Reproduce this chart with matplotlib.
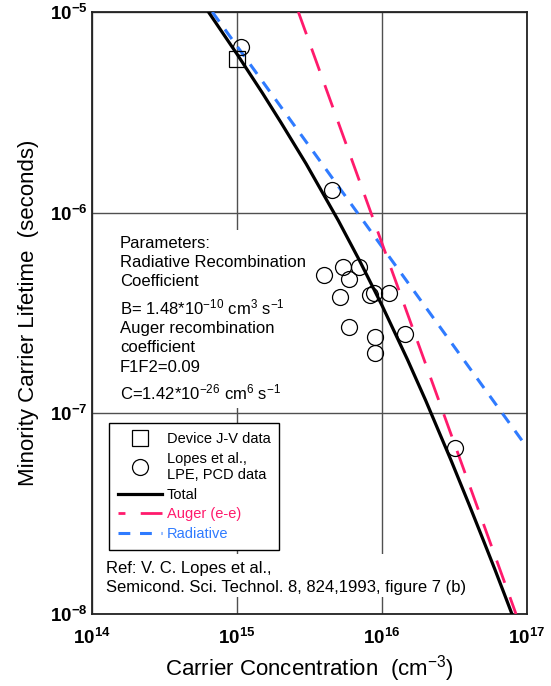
import matplotlib
matplotlib.use('Agg')
import matplotlib.pyplot as plt
from matplotlib.lines import Line2D
from matplotlib.patches import Rectangle

plt.rcParams['font.family'] = ['Liberation Sans', 'DejaVu Sans']
plt.rcParams['mathtext.fontset'] = 'custom'
plt.rcParams['mathtext.rm'] = 'Liberation Sans'
plt.rcParams['mathtext.it'] = 'Liberation Sans:italic'
plt.rcParams['mathtext.bf'] = 'Liberation Sans:bold'
plt.rcParams['lines.scale_dashes'] = False

# model curves (carrier conc. cm^-3, lifetime s)
total_n = [6.3e14, 1e15, 1.5e15, 2e15, 3e15, 5e15, 7e15, 1e16, 1.5e16,
           2e16, 3e16, 4e16, 5e16, 6e16, 7e16, 8e16]
total_tau = [1.01e-5, 6.17e-6, 3.94e-6, 2.83e-6, 1.75e-6, 9.13e-7, 5.77e-7,
             3.45e-7, 1.85e-7, 1.16e-7, 5.81e-8, 3.49e-8, 2.33e-8, 1.67e-8,
             1.25e-8, 9.7e-9]
auger_n = [2.65e15, 8.4e16]
auger_tau = [1.0e-5, 1.0e-8]
rad_n = [6.76e14, 1e17]
rad_tau = [1.0e-5, 6.76e-8]

# measured data
device_n = [1.0e15]
device_tau = [5.8e-6]
lopes_n = [1.06e15, 4.5e15, 4.0e15, 5.4e15, 6.97e15, 5.96e15, 5.13e15,
           8.26e15, 8.85e15, 1.12e16, 5.96e15, 8.96e15, 1.44e16, 8.96e15,
           3.18e16]
lopes_tau = [6.7e-6, 1.30e-6, 4.88e-7, 5.38e-7, 5.38e-7, 4.68e-7, 3.79e-7,
             3.90e-7, 3.96e-7, 3.96e-7, 2.69e-7, 2.41e-7, 2.49e-7, 1.99e-7,
             6.7e-8]

x_ticks = [1e14, 1e15, 1e16, 1e17]
x_labels = [r'$\mathbf{10^{14}}$', r'$\mathbf{10^{15}}$', r'$\mathbf{10^{16}}$', r'$\mathbf{10^{17}}$']
y_ticks = [1e-8, 1e-7, 1e-6, 1e-5]
y_labels = [r'$\mathbf{10^{-8}}$', r'$\mathbf{10^{-7}}$', r'$\mathbf{10^{-6}}$', r'$\mathbf{10^{-5}}$']

pink = '#ff1a6c'
blue = '#2f7bff'

fig = plt.figure(figsize=(5.51, 6.86), dpi=100)
ax = fig.add_axes([92 / 551, 1 - 614 / 686, 435 / 551, 602 / 686])
ax.set_xscale('log')
ax.set_yscale('log')
ax.set_xlim(1e14, 1e17)
ax.set_ylim(1e-8, 1e-5)
ax.minorticks_off()
ax.set_xticks(x_ticks)
ax.set_xticklabels(x_labels, fontsize=13.5)
ax.set_yticks(y_ticks)
ax.set_yticklabels(y_labels, fontsize=13.5)
ax.tick_params(axis='both', length=0)
ax.tick_params(axis='x', pad=10)
ax.tick_params(axis='y', pad=3)
ax.grid(True, color='#505050', lw=1.0)
ax.set_axisbelow(True)
for s in ax.spines.values():
    s.set_linewidth(1.3)
    s.set_color('#222222')

ax.set_xlabel(r'Carrier Concentration  (cm$^{-3}$)', fontsize=16, labelpad=4)
ax.set_ylabel('Minority Carrier Lifetime  (seconds)', fontsize=16, labelpad=8)

# white boxes behind the annotation text
ax.add_patch(Rectangle((0.046, 0.342), 0.455, 0.296, transform=ax.transAxes,
                       facecolor='white', edgecolor='none', zorder=1))
ax.add_patch(Rectangle((0.018, 0.028), 0.86, 0.072, transform=ax.transAxes,
                       facecolor='white', edgecolor='none', zorder=1))

ax.plot(rad_n, rad_tau, color=blue, lw=2.2, dashes=(8.5, 7), zorder=3)
ax.plot(auger_n, auger_tau, color=pink, lw=2.0, dashes=(17, 11), zorder=3)
ax.plot(total_n, total_tau, color='black', lw=2.3, zorder=4)
ax.plot(device_n, device_tau, ls='none', marker='s', ms=12, mfc='none',
        mec='black', mew=0.9, zorder=5)
ax.plot(lopes_n, lopes_tau, ls='none', marker='o', ms=11.5, mfc='none',
        mec='black', mew=0.9, zorder=5)

# parameters text
px = (120 - 92) / 435
params = [
    (248, 'Parameters:'),
    (267, 'Radiative Recombination'),
    (286, 'Coefficient'),
    (314, r'B= 1.48*10$^{-10}$ cm$^{3}$ s$^{-1}$'),
    (333, 'Auger recombination'),
    (352, 'coefficient'),
    (372, 'F1F2=0.09'),
    (399, r'C=1.42*10$^{-26}$ cm$^{6}$ s$^{-1}$'),
]
for py, txt in params:
    ax.text(px, (614 - py) / 602, txt, transform=ax.transAxes, fontsize=12,
            va='baseline', ha='left', zorder=6)

rx = (106 - 92) / 435
ax.text(rx, (614 - 573) / 602, 'Ref: V. C. Lopes et al.,', transform=ax.transAxes,
        fontsize=12, va='baseline', zorder=6)
ax.text(rx, (614 - 592) / 602, 'Semicond. Sci. Technol. 8, 824,1993, figure 7 (b)',
        transform=ax.transAxes, fontsize=12, va='baseline', zorder=6)

handles = [
    Line2D([], [], ls='none', marker='s', ms=12, mfc='none', mec='black', mew=0.9),
    Line2D([], [], ls='none', marker='o', ms=11.5, mfc='none', mec='black', mew=0.9),
    Line2D([], [], color='black', lw=2.3),
    Line2D([], [], color=pink, lw=2.0, ls=(12, (17, 11))),
    Line2D([], [], color=blue, lw=2.2, dashes=(8.5, 7)),
]
labels = ['Device J-V data', 'Lopes et al.,\nLPE, PCD data', 'Total',
          'Auger (e-e)', 'Radiative']
leg = ax.legend(handles, labels, loc='upper left',
                bbox_to_anchor=((109 - 92) / 435, (614 - 423) / 602),
                fontsize=10.5, frameon=True, fancybox=False, framealpha=1,
                edgecolor='black', handlelength=3.0, handletextpad=0.35,
                labelspacing=0.4, borderpad=0.6, borderaxespad=0)
leg.get_frame().set_linewidth(1.0)
leg.set_zorder(7)
for t, c in zip(leg.get_texts(), ['black', 'black', 'black', pink, blue]):
    t.set_color(c)

fig.savefig('out.png', dpi=100)
